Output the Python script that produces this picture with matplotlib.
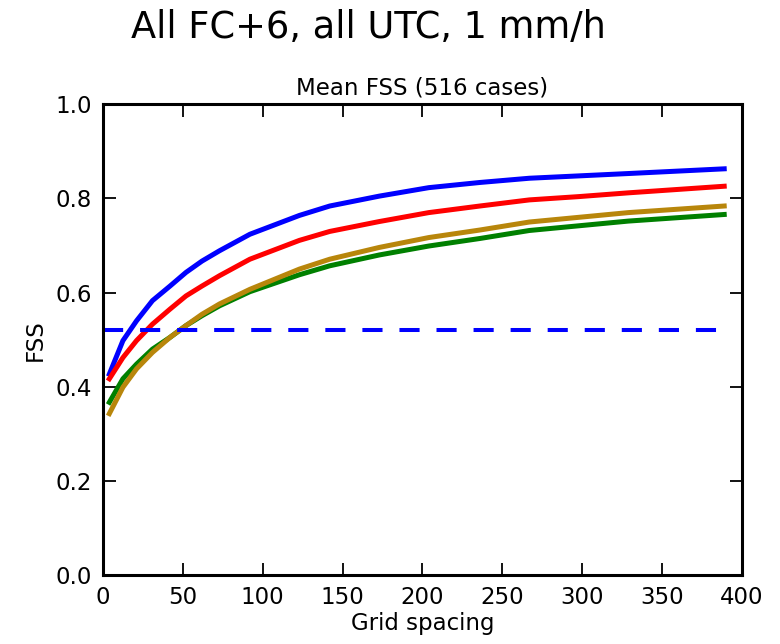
import matplotlib
matplotlib.use("Agg")
import matplotlib.pyplot as plt

# grid spacing (km) and mean FSS for each experiment
grid_spacing = [4, 12.5, 21, 31, 42, 52, 62, 73, 92, 123, 142, 173, 204, 236, 267, 298,
                329, 389]
fss_blue = [0.427, 0.498, 0.540, 0.583, 0.614, 0.643, 0.667, 0.689, 0.724, 0.764,
            0.784, 0.805, 0.823, 0.834, 0.843, 0.848, 0.853, 0.863]
fss_red = [0.417, 0.462, 0.498, 0.533, 0.565, 0.593, 0.614, 0.636, 0.671, 0.711,
           0.730, 0.751, 0.770, 0.784, 0.797, 0.804, 0.812, 0.826]
fss_green = [0.367, 0.417, 0.448, 0.480, 0.505, 0.530, 0.551, 0.572, 0.602, 0.638,
             0.657, 0.680, 0.699, 0.715, 0.732, 0.742, 0.752, 0.766]
fss_brown = [0.343, 0.399, 0.438, 0.473, 0.505, 0.530, 0.554, 0.576, 0.607, 0.650,
             0.671, 0.696, 0.717, 0.733, 0.750, 0.760, 0.770, 0.784]
fss_useful = 0.52
useful_range = [0, 388]

plt.rcParams['font.family'] = ['DejaVu Sans']
plt.rcParams['xtick.direction'] = 'in'
plt.rcParams['ytick.direction'] = 'in'

fig = plt.figure(figsize=(7.8, 6.44), dpi=100)
ax = fig.add_axes([0.132, 0.107, 0.819, 0.731])

lw = 3.6
ax.plot(grid_spacing, fss_blue, color='b', lw=lw)
ax.plot(grid_spacing, fss_red, color='r', lw=lw)
ax.plot(grid_spacing, fss_green, color='g', lw=lw)
ax.plot(grid_spacing, fss_brown, color='darkgoldenrod', lw=lw)
ax.plot(useful_range, [fss_useful, fss_useful], color='b', lw=2.9, dashes=(5, 4.2))

ax.set_xlim(0, 400)
ax.set_ylim(0, 1.0)
ax.set_xticks(range(0, 401, 50))
ax.set_yticks([0.0, 0.2, 0.4, 0.6, 0.8, 1.0])
ax.tick_params(top=True, right=True, length=9, width=1.3, labelsize=16.5, pad=8)
for s in ax.spines.values():
    s.set_linewidth(2.2)

ax.set_xlabel('Grid spacing', fontsize=16.5, labelpad=2)
ax.set_ylabel('FSS', fontsize=16.5, labelpad=6)
ax.set_title('Mean FSS (516 cases)', fontsize=16.5, pad=7)
fig.text(0.472, 0.957, 'All FC+6, all UTC, 1 mm/h', fontsize=26.5, ha='center', va='center')

fig.savefig('out.png', dpi=100, facecolor='white')
